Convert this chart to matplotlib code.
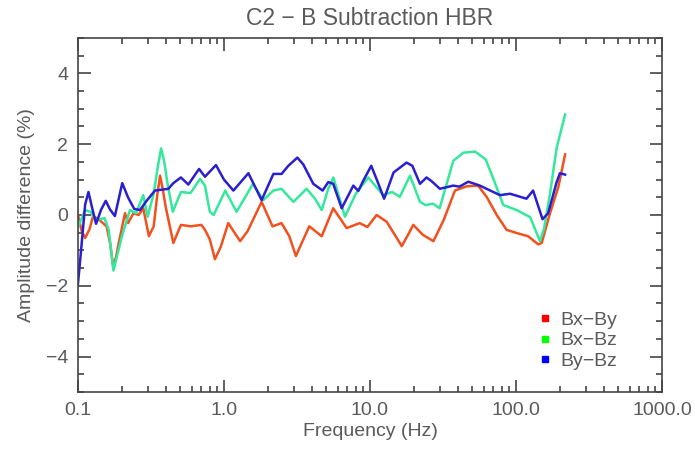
import numpy as np
import matplotlib.pyplot as plt
from matplotlib.lines import Line2D
from matplotlib.ticker import LogLocator, FixedLocator, NullFormatter, MultipleLocator

# Bx-By (red)
freq_xy = [0.100, 0.106, 0.112, 0.120, 0.127, 0.140, 0.157, 0.166, 0.174, 0.182, 0.190, 0.21,
           0.22, 0.24, 0.26, 0.28, 0.306, 0.33, 0.35, 0.365, 0.38, 0.40, 0.45, 0.507,
           0.59, 0.70, 0.741, 0.80, 0.867, 0.95, 1.07, 1.29, 1.45, 1.81, 2.15,
           2.48, 2.8, 3.11, 3.4, 3.84, 4.67, 5.6, 6.92, 8.5, 9.6, 11.1, 13.0,
           15.0, 16.5, 18.0, 19.8, 23.0, 27.2, 32.0, 38.2, 45.9, 55.0, 63.0,
           73.8, 86.3, 101, 121, 142, 150, 171, 195, 217]
amp_xy = [0.0, -0.45, -0.65, -0.4, -0.03, -0.14, -0.32, -0.8, -1.45, -1.2, -0.8, 0.05,
          -0.23, 0.05, 0.0, 0.19, -0.6, -0.32, 0.6, 1.11, 0.75, 0.2, -0.79, -0.28,
          -0.32, -0.28, -0.42, -0.69, -1.25, -0.9, -0.23, -0.74, -0.46, 0.37, -0.32,
          -0.23, -0.6, -1.16, -0.8, -0.32, -0.6, 0.19, -0.37, -0.23, -0.34, 0.0, -0.19,
          -0.6, -0.88, -0.6, -0.28, -0.56, -0.74, -0.14, 0.69, 0.81, 0.83, 0.51,
          0.0, -0.42, -0.51, -0.6, -0.83, -0.79, 0.05, 0.79, 1.71]

# Bx-Bz (green)
freq_xz = [0.100, 0.112, 0.122, 0.132, 0.152, 0.162, 0.175, 0.200, 0.227, 0.25,
           0.28, 0.30, 0.33, 0.355, 0.371, 0.39, 0.41, 0.446, 0.507, 0.59, 0.686, 0.741,
           0.80, 0.85, 1.02, 1.22, 1.58, 1.86, 2.18, 2.48, 2.99, 3.68,
           4.2, 4.67, 5.18, 5.61, 6.74, 8.0, 9.73, 12.3, 14.2, 16.0,
           18.8, 22.0, 24.0, 27.0, 30.0, 37.2, 43.6, 52.5, 62.0, 70.0,
           81.9, 101, 125, 146, 156, 171, 190, 217]
amp_xz = [-0.35, 0.14, 0.09, -0.14, -0.09, -0.4, -1.57, -0.6, 0.14, 0.05,
          0.56, -0.05, 0.6, 1.45, 1.88, 1.5, 0.9, 0.09, 0.65, 0.62, 1.02, 0.83,
          0.09, 0.0, 0.69, 0.09, 0.88, 0.42, 0.69, 0.74, 0.37, 0.74,
          0.46, 0.14, 0.74, 1.06, -0.05, 0.60, 1.06, 0.56, 0.65, 0.51,
          1.11, 0.37, 0.28, 0.32, 0.19, 1.53, 1.76, 1.79, 1.57, 1.02,
          0.28, 0.14, -0.06, -0.74, -0.37, 0.60, 1.90, 2.84]

# By-Bz (blue)
freq_yz = [0.100, 0.105, 0.112, 0.118, 0.125, 0.133, 0.144, 0.155, 0.166, 0.179,
           0.190, 0.201, 0.220, 0.243, 0.266, 0.295, 0.337, 0.416, 0.450, 0.507,
           0.570, 0.675, 0.741, 0.881, 1.00, 1.16, 1.47, 1.81, 2.18, 2.48,
           2.76, 3.18, 3.49, 4.09, 4.74, 5.18, 5.6, 6.40, 7.69, 8.32,
           9.0, 10.2, 11.2, 12.5, 14.5, 17.8, 19.5, 22.0, 24.4, 26.5,
           30.1, 37.2, 41.0, 47.1, 56.6, 77.6, 91.1, 118, 131, 152,
           166, 190, 200, 217]
amp_yz = [-1.94, -1.0, 0.3, 0.65, 0.2, -0.25, 0.15, 0.40, 0.15, -0.03,
          0.45, 0.90, 0.50, 0.17, 0.14, 0.40, 0.69, 0.74, 0.90, 1.06,
          0.86, 1.30, 1.08, 1.41, 1.0, 0.69, 1.18, 0.42, 1.16, 1.16,
          1.39, 1.62, 1.43, 0.88, 0.69, 0.93, 0.88, 0.19, 0.83, 0.68,
          0.97, 1.39, 0.97, 0.46, 1.20, 1.48, 1.39, 0.88, 1.06, 0.95,
          0.74, 0.83, 0.80, 0.94, 0.83, 0.56, 0.60, 0.46, 0.69, -0.12,
          0.05, 0.93, 1.18, 1.14]

x_ticks = [0.1, 1.0, 10.0, 100.0, 1000.0]
x_ticklabels = ['0.1', '1.0', '10.0', '100.0', '1000.0']
y_ticks = [-4, -2, 0, 2, 4]
y_ticklabels = ['\u22124', '\u22122', '0', '2', '4']

TXT = '#5a5a5a'
plt.rcParams['font.family'] = ['Liberation Sans', 'DejaVu Sans']

fig = plt.figure(figsize=(6.95, 4.49), dpi=100)
ax = fig.add_axes([0.1122, 0.127, 0.8403, 0.7884])

ax.plot(freq_xy, amp_xy, color='#f2501e', lw=1.8, solid_joinstyle='round')
ax.plot(freq_xz, amp_xz, color='#34e89c', lw=1.8, solid_joinstyle='round')
ax.plot(freq_yz, amp_yz, color='#2a1fd0', lw=1.8, solid_joinstyle='round')

ax.set_xscale('log')
ax.set_xlim(0.1, 1000)
ax.set_ylim(-5, 5)
ax.xaxis.set_major_locator(FixedLocator(x_ticks))
ax.set_xticklabels(x_ticklabels)
ax.xaxis.set_minor_locator(LogLocator(base=10, subs=np.arange(2, 10)))
ax.xaxis.set_minor_formatter(NullFormatter())
ax.set_yticks(y_ticks)
ax.set_yticklabels(y_ticklabels)
ax.yaxis.set_minor_locator(MultipleLocator(0.5))

ax.tick_params(which='both', direction='in', top=True, right=True,
               colors='#444444', labelcolor=TXT, labelsize=14, width=1.2)
ax.tick_params(which='major', length=9, pad=7)
ax.tick_params(which='minor', length=4.5)
for s in ax.spines.values():
    s.set_color('#444444')
    s.set_linewidth(1.2)

ax.set_xlabel('Frequency (Hz)', fontsize=14, color=TXT, labelpad=3)
ax.set_ylabel('Amplitude difference (%)', fontsize=14, color=TXT, labelpad=8)
ax.set_title('C2 \u2212 B Subtraction HBR', fontsize=16.5, color=TXT, pad=9)

handles = [Line2D([], [], ls='none', marker='s', ms=4, color=c)
           for c in ['#ff0000', '#00ff00', '#0000ff']]
ax.legend(handles, ['Bx\u2212By', 'Bx\u2212Bz', 'By\u2212Bz'], loc='lower right',
          bbox_to_anchor=(0.954, 0.013), frameon=False, fontsize=14,
          handletextpad=0.3, labelspacing=0.15, labelcolor=TXT, handlelength=1.0)

fig.savefig('out.png', dpi=100)
